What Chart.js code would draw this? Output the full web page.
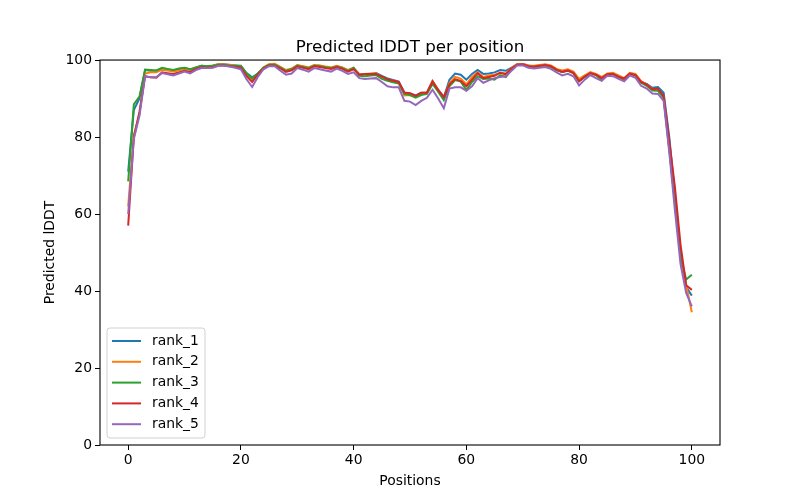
<!DOCTYPE html>
<html>
<head>
<meta charset="utf-8">
<script src="https://cdn.jsdelivr.net/npm/chart.js@4/dist/chart.umd.min.js"></script>
<style>
html,body{margin:0;padding:0;background:#fff;}
#c{display:block;}
</style>
</head>
<body>
<canvas id="c" width="800" height="500"></canvas>
<script>
const positions = Array.from({length: 101}, (_, i) => i);
const xTickValues = [0, 20, 40, 60, 80, 100];
const yTickValues = [0, 20, 40, 60, 80, 100];
const seriesNames = ["rank_1", "rank_2", "rank_3", "rank_4", "rank_5"];
const seriesColors = ["#1f77b4", "#ff7f0e", "#2ca02c", "#d62728", "#9467bd"];

const rank_1 = [71,87,90,97.4,97.2,97.2,97.8,97.5,97.2,97.6,97.9,97.5,98,98.5,98.4,98.5,98.9,98.9,98.7,98.6,98.5,96.6,95.5,96.5,98,98.8,98.9,98.1,97.2,97.6,98.6,98.3,97.9,98.6,98.5,98.1,97.9,98.4,98,97.3,97.8,96.4,96.3,96.4,96.6,95.9,95.2,94.8,94.4,91.5,91.3,90.8,91.5,91.5,94.5,92.3,90.3,94.9,96.5,96.2,94.9,96.4,97.4,96.4,96.5,96.8,97.4,97.2,98,98.9,99,98.6,98.4,98.6,98.8,98.4,97.5,96.9,97.4,96.8,94.6,95.7,96.7,96.2,95.1,96.3,96.5,95.8,95.2,96.5,96.2,94.3,93.8,92.8,93,91.5,80,65,50,41,38.8];
const rank_2 = [62,80.5,86,96.5,96.8,96.8,97.5,97.3,97,97.3,97.7,97.5,97.9,98.4,98.4,98.6,98.9,98.9,98.8,98.6,98.4,96.3,95,96.4,98.1,98.9,99,98.2,97.4,97.8,98.7,98.4,98.1,98.7,98.6,98.3,98.1,98.5,98.1,97.4,98,96.2,96.4,96.5,96.5,95.6,94.9,94.6,94.2,90.8,90.9,90.4,91.3,91.4,94.6,92.2,90.2,94,95.6,95.2,93.7,95.6,96.8,95.6,96,96.2,96.7,96.5,97.9,98.9,99,98.6,98.5,98.7,98.9,98.6,97.7,97.3,97.6,97,95.1,96,96.9,96.4,95.6,96.5,96.7,96,95.3,96.7,96.4,94.5,93.6,92.5,92.5,90.3,77,63,49,41.5,34.5];
const rank_3 = [68.5,88.5,90.5,97.5,97.4,97.3,98,97.7,97.4,97.8,98,97.6,98.1,98.5,98.4,98.5,98.8,98.8,98.6,98.5,98.4,96.5,95.2,96.5,98,98.8,98.8,98,97.2,97.6,98.5,98.2,97.9,98.5,98.4,98.1,97.9,98.3,97.9,97.2,98,95.9,95.8,96,96.1,95.1,94.6,94.2,93.9,91.2,90.9,90.2,90.9,91.2,93.8,91.8,89.6,93.2,94.8,94.4,92.2,94.3,95.8,95.1,95.2,94.9,96.1,95.6,97.5,98.7,98.8,98.3,98.1,98.4,98.6,98.2,97.3,96.9,97.2,96.6,94.5,95.6,96.5,96.1,94.7,96.2,96.4,95.6,94.9,96.4,96,94.1,93.3,92.1,92,90.2,77,63,49,43,44.2];
const rank_4 = [57,80,86.5,95.8,95.5,95.4,96.8,96.6,96.4,96.8,97.2,96.9,97.6,98.1,98,98.1,98.6,98.6,98.4,98.2,98,95.8,94.3,96.2,97.8,98.6,98.6,97.8,96.9,97.3,98.3,98,97.6,98.4,98.2,97.9,97.7,98.2,97.7,97,97.6,96.2,96.4,96.4,96.4,95.7,95,94.6,94.3,91.6,91.4,90.7,91.5,91.5,94.4,92.2,90.4,93.7,95,94.6,93.2,94.9,96.6,95.3,95.6,95.9,96.7,96.3,97.8,98.8,98.9,98.4,98.3,98.5,98.7,98.4,97.5,96.9,97.3,96.6,94.5,95.7,96.6,96.2,95.3,96.3,96.4,95.6,95.2,96.5,96.1,94.3,93.6,92.4,92.6,90.6,79,67,52,41.5,40.3];
const rank_5 = [60,79.5,85.5,95.8,95.5,95.6,96.6,96.3,96,96.5,97,96.5,97.4,97.9,97.9,98,98.5,98.5,98.3,98,97.6,95,93,95.6,97.6,98.4,98.4,97.2,96.2,96.5,97.9,97.5,97,97.9,97.6,97.3,97,97.8,97.2,96.4,96.8,95.3,95.1,95.2,95.3,94.3,93.2,92.9,92.9,89.4,89.2,88.3,89.4,90.2,92.3,90,87.5,92.6,92.9,92.9,92,93.2,95.3,94.1,94.7,95.3,95.6,95.8,97.2,98.6,98.6,98,97.8,98,98.2,97.7,96.8,96,96.4,95.8,93.4,94.9,96.1,95.3,94.6,95.9,95.8,95.1,94.5,96,95.4,93.3,92.6,91.3,91.2,89.4,76,61,47,39.5,36];

const seriesValues = [rank_1, rank_2, rank_3, rank_4, rank_5];

const FONT = "'DejaVu Sans', sans-serif";

const framePlugin = {
  id: 'frame',
  afterDraw(chart) {
    const {ctx, chartArea: a} = chart;
    ctx.save();
    ctx.strokeStyle = '#000';
    ctx.lineWidth = 1.1;
    ctx.strokeRect(a.left, a.top, a.right - a.left, a.bottom - a.top);
    ctx.restore();
  }
};

const legendPlugin = {
  id: 'mplLegend',
  afterDraw(chart) {
    const {ctx, chartArea: a} = chart;
    const x0 = a.left + 7, y0 = a.bottom - 117, w = 98, h = 110;
    ctx.save();
    ctx.beginPath();
    if (ctx.roundRect) ctx.roundRect(x0, y0, w, h, 3); else ctx.rect(x0, y0, w, h);
    ctx.fillStyle = 'rgba(255,255,255,0.8)';
    ctx.fill();
    ctx.strokeStyle = 'rgba(204,204,204,0.9)';
    ctx.lineWidth = 1;
    ctx.stroke();
    ctx.font = "13.9px " + FONT;
    ctx.textBaseline = 'middle';
    ctx.textAlign = 'left';
    chart.data.datasets.forEach((ds, i) => {
      const y = y0 + 13 + i * 20.8;
      ctx.strokeStyle = ds.borderColor;
      ctx.lineWidth = 2;
      ctx.beginPath();
      ctx.moveTo(x0 + 5, y);
      ctx.lineTo(x0 + 34, y);
      ctx.stroke();
      ctx.fillStyle = '#000';
      ctx.fillText(ds.label, x0 + 45, y);
    });
    ctx.restore();
  }
};

new Chart(document.getElementById('c'), {
  type: 'line',
  data: {
    datasets: seriesNames.map((name, i) => ({
      label: name,
      data: positions.map((p, j) => ({x: p, y: seriesValues[i][j]})),
      borderColor: seriesColors[i],
      backgroundColor: seriesColors[i],
      borderWidth: 2,
      pointRadius: 0,
      tension: 0,
      fill: false,
      yAxisID: 'y',
      order: 4 - i
    }))
  },
  options: {
    responsive: false,
    animation: false,
    devicePixelRatio: 1,
    layout: {padding: {left: 20, right: 0, top: 0, bottom: 0}},
    plugins: {
      legend: {display: false},
      tooltip: {enabled: false},
      title: {
        display: true,
        text: 'Predicted lDDT per position',
        color: '#000',
        font: {family: FONT, size: 16.7, weight: 'normal', lineHeight: 1.2},
        padding: {top: 38, bottom: 2}
      }
    },
    scales: {
      x: {
        type: 'linear',
        min: -5,
        max: 105,
        afterBuildTicks: axis => { axis.ticks = xTickValues.map(v => ({value: v})); },
        afterFit: s => { s.height = 55; },
        border: {display: false},
        grid: {drawOnChartArea: false, drawTicks: true, tickLength: 5, tickColor: '#000', tickWidth: 1},
        ticks: {color: '#000', font: {family: FONT, size: 13.9}, padding: 2, maxRotation: 0},
        title: {display: true, text: 'Positions', color: '#000', font: {family: FONT, size: 13.9, lineHeight: 1.2}, padding: {top: 10, bottom: 10}}
      },
      y: {
        type: 'linear',
        position: 'left',
        min: 0,
        max: 100,
        afterBuildTicks: axis => { axis.ticks = yTickValues.map(v => ({value: v})); },
        afterFit: s => { s.width = 80; },
        border: {display: false},
        grid: {drawOnChartArea: false, drawTicks: true, tickLength: 5, tickColor: '#000', tickWidth: 1},
        ticks: {color: '#000', font: {family: FONT, size: 13.9}, padding: 3},
        title: {display: true, text: 'Predicted lDDT', color: '#000', font: {family: FONT, size: 13.9, lineHeight: 1.2}, padding: {top: 22, bottom: 22}}
      },
      yr: {
        type: 'linear',
        position: 'right',
        display: true,
        min: 0,
        max: 100,
        afterFit: s => { s.width = 80; },
        border: {display: false},
        grid: {display: false},
        ticks: {display: false}
      }
    }
  },
  plugins: [framePlugin, legendPlugin]
});
</script>
</body>
</html>
